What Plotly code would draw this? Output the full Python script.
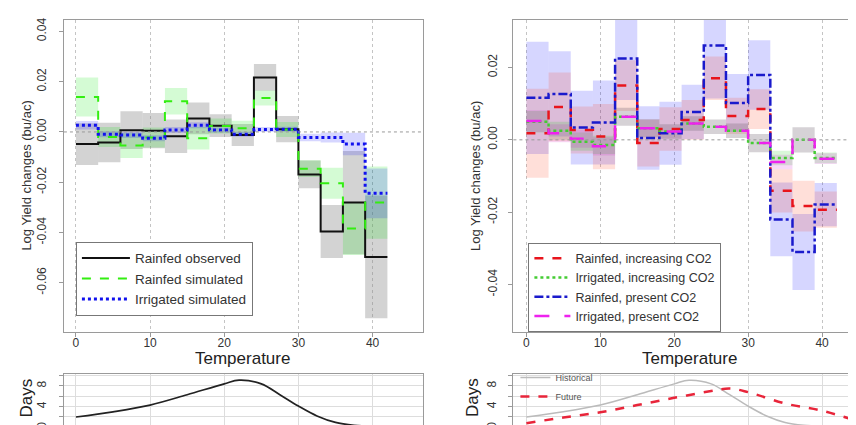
import plotly.graph_objects as go

# ---------------- data ----------------
bin_edges = [0, 3, 6, 9, 12, 15, 18, 21, 24, 27, 30, 33, 36, 39, 42]

# left panel
rainfed_obs = [-0.0048, -0.0042, 0.0007, 0.0005, -0.0017, 0.0054, 0.0025, -0.0012, 0.0217, 0.0011, -0.0169, -0.0396, -0.0281, -0.0497]
rainfed_obs_ci = [0.0083, 0.0079, 0.0075, 0.0070, 0.0067, 0.0063, 0.0045, 0.0044, 0.0053, 0.0052, 0.0055, 0.0105, 0.0205, 0.0244]
rainfed_sim = [0.0139, -0.0020, -0.0054, -0.0022, 0.0122, -0.0025, 0.0024, 0.0015, 0.0135, 0.0010, -0.0146, -0.0204, -0.0384, -0.0281]
rainfed_sim_ci = [0.0078, 0.0040, 0.0050, 0.0040, 0.0053, 0.0045, 0.0030, 0.0030, 0.0030, 0.0030, 0.0033, 0.0062, 0.0105, 0.0144]
irrigated_sim = [0.0027, -0.0009, -0.0012, -0.0025, 0.0008, 0.0027, 0.0008, -0.0009, 0.0010, 0.0011, -0.0022, -0.0022, -0.0048, -0.0244]
irrigated_sim_ci = [0.0017, 0.0012, 0.0012, 0.0012, 0.0012, 0.0012, 0.0010, 0.0010, 0.0010, 0.0010, 0.0015, 0.0020, 0.0045, 0.0099]

# right panel
rain_inc = [0.0018, 0.0091, 0.0027, 0.0009, 0.0150, -0.0009, 0.0030, 0.0055, 0.0170, 0.0066, 0.0085, -0.0141, -0.0183, -0.0193]
rain_inc_ci = [0.0123, 0.0095, 0.0065, 0.0090, 0.0070, 0.0065, 0.0060, 0.0055, 0.0060, 0.0050, 0.0055, 0.0060, 0.0070, 0.0050]
irr_inc = [0.0050, 0.0025, -0.0005, -0.0014, 0.0064, 0.0032, 0.0023, 0.0045, 0.0036, 0.0025, -0.0009, -0.0050, 0.0000, -0.0050]
irr_inc_ci = [0.0030, 0.0025, 0.0025, 0.0025, 0.0025, 0.0025, 0.0020, 0.0020, 0.0020, 0.0020, 0.0025, 0.0020, 0.0035, 0.0015]
rain_pre = [0.0116, 0.0127, 0.0034, 0.0048, 0.0225, 0.0005, 0.0018, 0.0077, 0.0261, 0.0102, 0.0179, -0.0220, -0.0310, -0.0179]
rain_pre_ci = [0.0155, 0.0118, 0.0102, 0.0116, 0.0115, 0.0088, 0.0087, 0.0075, 0.0147, 0.0080, 0.0096, 0.0102, 0.0105, 0.0060]
irr_pre = [0.0052, 0.0018, 0.0003, -0.0018, 0.0064, 0.0032, 0.0023, 0.0045, 0.0036, 0.0025, -0.0009, -0.0061, 0.0000, -0.0052]
irr_pre_ci = [0.0030, 0.0025, 0.0025, 0.0025, 0.0025, 0.0025, 0.0020, 0.0020, 0.0020, 0.0020, 0.0025, 0.0020, 0.0035, 0.0015]

# exposure (days) panels
hist_temps = [0, 5, 10, 15, 20, 22, 25, 27.5, 30, 32.5, 35, 37.5, 40, 45]
hist_days = [2.0, 3.0, 4.3, 6.3, 8.4, 9.1, 8.4, 6.3, 4.1, 2.2, 0.95, 0.4, 0.2, 0.15]
fut_temps = [0, 5, 10, 15, 20, 25, 27.5, 30, 35, 40, 45]
fut_days = [0.8, 1.9, 2.9, 4.3, 5.7, 7.0, 7.5, 6.8, 4.6, 3.2, 1.1]

x_ticks = [0, 10, 20, 30, 40]
left_y_ticks = [-0.06, -0.04, -0.02, 0.0, 0.02, 0.04]
right_y_ticks = [-0.04, -0.02, 0.0, 0.02]
day_ticks = [0, 2, 4, 6, 8, 10]
day_labels = ["0", "", "4", "", "8", ""]

FONT = "Liberation Sans, Arial, sans-serif"
W, H = 856, 425

centers = [(a + b) / 2 for a, b in zip(bin_edges[:-1], bin_edges[1:])]
widths = [b - a for a, b in zip(bin_edges[:-1], bin_edges[1:])]


def band(vals, ci, color, xa, ya):
    return go.Bar(x=centers, y=[2 * c for c in ci], base=[v - c for v, c in zip(vals, ci)],
                  width=widths, marker=dict(color=color, line=dict(width=0)),
                  xaxis=xa, yaxis=ya, showlegend=False, hoverinfo="skip")


def step(vals, name, color, dash, width, xa, ya, legend):
    return go.Scatter(x=bin_edges, y=list(vals) + [vals[-1]], mode="lines", line_shape="hv",
                      line=dict(color=color, dash=dash, width=width), name=name,
                      xaxis=xa, yaxis=ya, legend=legend)


fig = go.Figure()

# left panel bands
fig.add_trace(band(rainfed_obs, rainfed_obs_ci, "rgba(140,140,140,0.38)", "x", "y"))
fig.add_trace(band(rainfed_sim, rainfed_sim_ci, "rgba(0,230,0,0.17)", "x", "y"))
fig.add_trace(band(irrigated_sim, irrigated_sim_ci, "rgba(0,0,255,0.16)", "x", "y"))
# left lines
fig.add_trace(step(rainfed_obs, "Rainfed observed", "#111111", "solid", 2, "x", "y", "legend"))
fig.add_trace(step(rainfed_sim, "Rainfed simulated", "#33ee11", "dash", 2, "x", "y", "legend"))
fig.add_trace(step(irrigated_sim, "Irrigated simulated", "#1111ee", "dot", 3, "x", "y", "legend"))

# right panel bands
fig.add_trace(band(rain_pre, rain_pre_ci, "rgba(0,0,255,0.16)", "x2", "y2"))
fig.add_trace(band(rain_inc, rain_inc_ci, "rgba(255,40,0,0.15)", "x2", "y2"))
fig.add_trace(band(irr_inc, irr_inc_ci, "rgba(0,200,0,0.15)", "x2", "y2"))
fig.add_trace(band(irr_pre, irr_pre_ci, "rgba(200,0,200,0.15)", "x2", "y2"))
# right lines
fig.add_trace(step(rain_inc, "Rainfed, increasing CO2", "#e8141c", "dash", 2.5, "x2", "y2", "legend2"))
fig.add_trace(step(irr_inc, "Irrigated, increasing CO2", "#44cc33", "dot", 2.5, "x2", "y2", "legend2"))
fig.add_trace(step(rain_pre, "Rainfed, present CO2", "#1a1acc", "dashdot", 2.5, "x2", "y2", "legend2"))
fig.add_trace(step(irr_pre, "Irrigated, present CO2", "#ee22ee", "longdash", 2.5, "x2", "y2", "legend2"))

# bottom panels
fig.add_trace(go.Scatter(x=hist_temps, y=hist_days, mode="lines", line_shape="spline",
                         line=dict(color="#222222", width=1.7), xaxis="x3", yaxis="y3", showlegend=False))
fig.add_trace(go.Scatter(x=hist_temps, y=hist_days, mode="lines", line_shape="spline", name="Historical",
                         line=dict(color="#bbbbbb", width=1.5), xaxis="x4", yaxis="y4", legend="legend3"))
fig.add_trace(go.Scatter(x=fut_temps, y=fut_days, mode="lines", line_shape="spline", name="Future",
                         line=dict(color="#e8253a", width=2.5, dash="dash"), xaxis="x4", yaxis="y4", legend="legend3"))


def px_x(p):
    return p / W


def px_y(p):
    return 1 - p / H


axis_common = dict(showline=True, mirror=True, linecolor="#9a9a9a", linewidth=1.2,
                   ticks="outside", tickcolor="#9a9a9a", ticklen=4,
                   tickfont=dict(family=FONT, size=12, color="#333333"), zeroline=False)

left_xr = [-(68 - 56) / 7.425, (415 - 68) / 7.425]
right_xr = [-(519 - 506) / 7.4, (856 - 519) / 7.4]

layout = dict(
    width=W, height=H, margin=dict(l=0, r=0, t=0, b=0),
    paper_bgcolor="white", plot_bgcolor="white", barmode="overlay",
    font=dict(family=FONT, color="#222222"),
    xaxis=dict(domain=[px_x(56), px_x(415)], range=left_xr, tickvals=x_ticks, ticklabelstandoff=-5,
               showgrid=True, gridcolor="#c4c4c4", griddash="dot", anchor="y", **axis_common),
    yaxis=dict(domain=[px_y(327), px_y(10)], range=[(123.7 - 327) / 2550, (123.7 - 10) / 2550],
               tickvals=left_y_ticks, ticktext=["-0.06", "-0.04", "-0.02", "0.00", "0.02", "0.04"],
               tickangle=-90, ticklabelstandoff=8, showgrid=False, anchor="x", **axis_common),
    xaxis2=dict(domain=[px_x(506), 1.0], range=right_xr, tickvals=x_ticks, ticklabelstandoff=-5,
                showgrid=True, gridcolor="#c4c4c4", griddash="dot", anchor="y2", **axis_common),
    yaxis2=dict(domain=[px_y(327), px_y(10)], range=[(131.7 - 327) / 3670, (131.7 - 10) / 3670],
                tickvals=right_y_ticks, ticktext=["-0.04", "-0.02", "0.00", "0.02"],
                tickangle=-90, ticklabelstandoff=7, showgrid=False, anchor="x2", **axis_common),
    xaxis3=dict(domain=[px_x(56), px_x(415)], range=left_xr, tickvals=x_ticks, showticklabels=False,
                showgrid=True, gridcolor="#dddddd", anchor="y3", **axis_common),
    yaxis3=dict(domain=[0, px_y(369)], range=[(423.3 - 425) / 5.25, (423.3 - 369) / 5.25],
                tickvals=day_ticks, ticktext=day_labels, tickangle=-90, ticklabelstandoff=8,
                showgrid=True, gridcolor="#dddddd", anchor="x3", **axis_common),
    xaxis4=dict(domain=[px_x(506), 1.0], range=right_xr, tickvals=x_ticks, showticklabels=False,
                showgrid=True, gridcolor="#dddddd", anchor="y4", **axis_common),
    yaxis4=dict(domain=[0, px_y(369)], range=[(423.3 - 425) / 5.25, (423.3 - 369) / 5.25],
                tickvals=day_ticks, ticktext=day_labels, tickangle=-90, ticklabelstandoff=8,
                showgrid=True, gridcolor="#dddddd", anchor="x4", **axis_common),
    legend=dict(x=px_x(68), y=px_y(235), xanchor="left", yanchor="top", itemwidth=48,
                bordercolor="#777777", borderwidth=1, bgcolor="white", tracegroupgap=0,
                font=dict(family=FONT, size=13.5, color="#333333")),
    legend2=dict(x=px_x(521), y=px_y(236), xanchor="left", yanchor="top", itemwidth=36,
                 bordercolor="#777777", borderwidth=1, bgcolor="white", tracegroupgap=0,
                 font=dict(family=FONT, size=12.5, color="#333333")),
    legend3=dict(x=px_x(508), y=px_y(358), xanchor="left", yanchor="top",
                 bgcolor="rgba(0,0,0,0)", borderwidth=0, tracegroupgap=0,
                 font=dict(family=FONT, size=9, color="#555555")),
    shapes=[
        dict(type="line", xref="x domain", yref="y", x0=0, x1=1, y0=0, y1=0,
             line=dict(color="#999999", width=1, dash="dot")),
        dict(type="line", xref="x2 domain", yref="y2", x0=0, x1=1, y0=0, y1=0,
             line=dict(color="#999999", width=1, dash="dot")),
    ],
    annotations=[
        dict(text="Log Yield changes (bu/ac)", x=px_x(19), y=px_y(168), xref="paper", yref="paper",
             xanchor="center", yanchor="middle",
             textangle=-90, showarrow=False, font=dict(family=FONT, size=13, color="#333333")),
        dict(text="Log Yield changes (bu/ac)", x=px_x(468), y=px_y(168), xref="paper", yref="paper",
             xanchor="center", yanchor="middle",
             textangle=-90, showarrow=False, font=dict(family=FONT, size=13, color="#333333")),
        dict(text="Temperature", x=px_x(235), y=px_y(353), xref="paper", yref="paper",
             xanchor="center", yanchor="middle",
             showarrow=False, font=dict(family=FONT, size=17, color="#222222")),
        dict(text="Temperature", x=px_x(682), y=px_y(353), xref="paper", yref="paper",
             xanchor="center", yanchor="middle",
             showarrow=False, font=dict(family=FONT, size=17, color="#222222")),
        dict(text="Days", x=px_x(18), y=px_y(393), xref="paper", yref="paper", textangle=-90,
             xanchor="center", yanchor="middle",
             showarrow=False, font=dict(family=FONT, size=17, color="#222222")),
        dict(text="Days", x=px_x(465), y=px_y(393), xref="paper", yref="paper", textangle=-90,
             xanchor="center", yanchor="middle",
             showarrow=False, font=dict(family=FONT, size=17, color="#222222")),
    ],
)
fig.update_layout(**layout)
fig.write_html("out.html")
